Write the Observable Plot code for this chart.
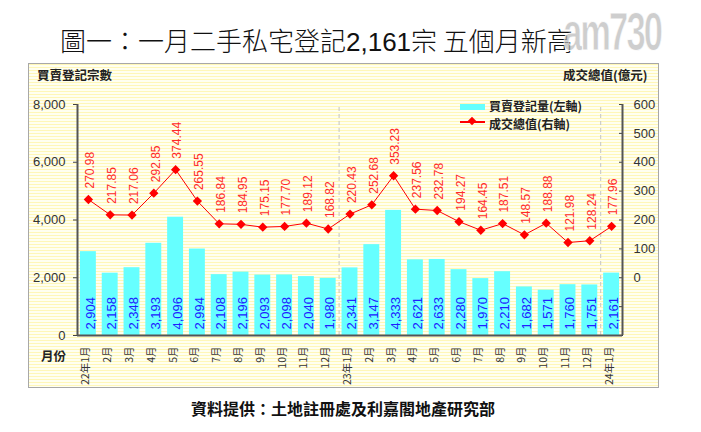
<!DOCTYPE html>
<html>
<head>
<meta charset="utf-8">
<script src="https://cdn.jsdelivr.net/npm/d3@7"></script>
<script src="https://cdn.jsdelivr.net/npm/@observablehq/plot@0.6"></script>
<style>
  html, body { margin: 0; padding: 0; background: #fff; }
  #page { position: relative; width: 701px; height: 432px; overflow: hidden; font-family: "Noto Sans CJK TC", "Noto Sans", sans-serif; }
  .abs { position: absolute; white-space: nowrap; }
  #title { left: 60px; top: 25px; font-size: 26px; line-height: 29px; color: #111; font-weight: 300; }
  #title .num { font-family: "Liberation Sans", "Noto Sans", sans-serif; font-weight: 400; }
  #box { left: 28px; top: 63px; width: 629px; height: 323px; border: 1px solid #a8a8a8;
         background: repeating-linear-gradient(to bottom, #fff7b8 0px, #fff7b8 1px, #fffff0 1px, #fffff0 3px); }
  #chart { left: 0; top: 60px; width: 701px; height: 330px; }
  .lab { font-size: 12.5px; font-weight: 700; color: #222; line-height: 13px; height: 13px; }
  .leg { font-size: 12px; font-weight: 700; color: #222; line-height: 12px; height: 12px; }
  #caption { left: 0; width: 686px; top: 399px; text-align: center; font-size: 16px; font-weight: 700; color: #111; line-height: 18px; }
  #wm { left: 563px; top: 6px; font-family: "Liberation Sans", sans-serif; font-weight: 700; font-size: 54px; line-height: 50px; color: rgba(185,185,185,0.7); letter-spacing: -3px; transform: scaleX(0.64); transform-origin: left top; -webkit-text-stroke: 1px rgba(255,255,255,0.85); }
</style>
</head>
<body>
<div id="page">
  <div id="box" class="abs"></div>
  <div id="title" class="abs">圖一：一月二手私宅登記<span class="num">2,161</span>宗 五個月新高</div>
  <div id="wm" class="abs">am730</div>
  <div id="chart" class="abs"></div>
  <div class="abs lab" style="left:37px; top:68px;">買賣登記宗數</div>
  <div class="abs lab" style="left:563px; top:68px;">成交總值(億元)</div>
  <div class="abs lab" style="left:41px; top:349px;">月份</div>
  <div class="abs" style="left:460px; top:104px; width:25px; height:6px; background:#66ffff;"></div>
  <div class="abs leg" style="left:489px; top:99.5px;">買賣登記量(左軸)</div>
  <div class="abs" style="left:460px; top:121px; width:25px; height:1.5px; background:#ff0000;"></div>
  <div class="abs" style="left:469px; top:118px; width:6px; height:6px; background:#ff0000; transform: rotate(45deg);"></div>
  <div class="abs leg" style="left:489px; top:117.5px;">成交總值(右軸)</div>
  <div id="caption" class="abs">資料提供：土地註冊處及利嘉閣地產研究部</div>
</div>
<script>
const months = ["22年1月","2月","3月","4月","5月","6月","7月","8月","9月","10月","11月","12月",
                "23年1月","2月","3月","4月","5月","6月","7月","8月","9月","10月","11月","12月","24年1月"];
const counts = [2904,2158,2348,3193,4096,2994,2108,2196,2093,2098,2040,1980,
                2341,3147,4333,2621,2633,2280,1970,2210,1682,1571,1760,1751,2161];
const values = [270.98,217.85,217.06,292.85,374.44,265.55,186.84,184.95,175.15,177.70,189.12,168.82,
                220.43,252.68,353.23,237.56,232.78,194.27,164.45,187.51,148.57,188.88,121.98,128.24,177.96];
const leftTicks = [0,2000,4000,6000,8000];
const rightTicks = [-200,-100,0,100,200,300,400,500,600];
const rightLabels = [0,100,200,300,400,500,600];

// right axis (-200..600) mapped onto left scale (0..8000)
const toLeft = v => (v + 200) * 10;
const data = months.map((m, i) => ({i, month: m, count: counts[i], value: values[i]}));
const half = 0.365;

const chart = Plot.plot({
  width: 701,
  height: 330,
  marginLeft: 77,
  marginRight: 79,
  marginTop: 44,
  marginBottom: 55,
  style: {background: "transparent", fontFamily: "'Liberation Sans', Arial, sans-serif"},
  x: {domain: [-0.5, 24.5], axis: null},
  y: {domain: [0, 8000], axis: null},
  marks: [
    Plot.ruleX([11.5, 23.5], {y1: 0, y2: 8000, stroke: "#c4c4c4", strokeDasharray: "4,3"}),
    Plot.rectY(data, {x1: d => d.i - half, x2: d => d.i + half, y: "count", fill: "#66ffff"}),
    Plot.text(data, {x: "i", y: 0, text: d => d3.format(",")(d.count), rotate: -90, textAnchor: "start",
                     dy: -6, dx: 2, fill: "#2020ff", fontSize: 13}),
    Plot.line(data, {x: "i", y: d => toLeft(d.value), stroke: "#ff0000", strokeWidth: 1}),
    Plot.dot(data, {x: "i", y: d => toLeft(d.value), symbol: "diamond2", r: 4.2, fill: "#ff0000", stroke: null}),
    Plot.text(data, {x: "i", y: d => toLeft(d.value), text: d => d.value.toFixed(2), rotate: -90, textAnchor: "start",
                     dy: -11, dx: 2, fill: "#ff2a2a", fontSize: 12}),
    Plot.text(data, {x: "i", text: "month", frameAnchor: "bottom", rotate: -90, textAnchor: "end",
                     dy: 11, dx: 1, fill: "#333", fontSize: 10.5, fontFamily: "'Noto Sans CJK TC', sans-serif"}),
    Plot.axisY({anchor: "left", ticks: leftTicks, tickSize: 4, tickPadding: 8, tickFormat: d3.format(","),
                fontSize: 13, stroke: "#444", fill: "#333", label: null}),
    Plot.axisY({anchor: "right", ticks: rightTicks.map(toLeft), tickSize: 4, dx: -4, tickFormat: () => "",
                stroke: "#444", label: null}),
    Plot.axisY({anchor: "right", ticks: rightLabels.map(toLeft), tickSize: 0, tickPadding: 11,
                tickFormat: d => String(Math.round(d / 10 - 200)), fontSize: 13, fill: "#333", label: null}),
    Plot.ruleX([-0.5, 24.5], {y1: 0, y2: 8000, stroke: "#555", strokeWidth: 2}),
    Plot.ruleY([0], {x1: -0.5, x2: 24.5, stroke: "#555", strokeWidth: 2})
  ]
});
document.getElementById("chart").appendChild(chart);
</script>
</body>
</html>
